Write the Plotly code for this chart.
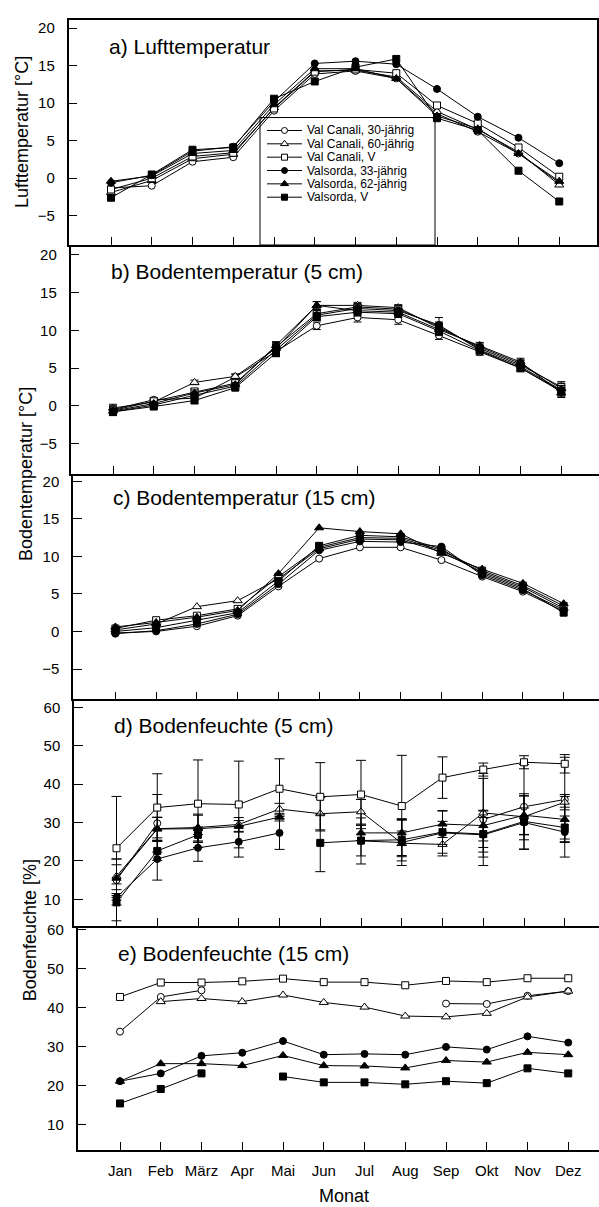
import plotly.graph_objects as go

W, H = 599, 1207
FONT = "Liberation Sans, Arial, sans-serif"

months = ["Jan", "Feb", "März", "Apr", "Mai", "Jun", "Jul", "Aug", "Sep", "Okt", "Nov", "Dez"]
month_idx = list(range(1, 13))

series_names = [
    "Val Canali, 30-jährig",
    "Val Canali, 60-jährig",
    "Val Canali, V",
    "Valsorda, 33-jährig",
    "Valsorda, 62-jährig",
    "Valsorda, V",
]

# a) Lufttemperatur [°C]
air_vc30 = [-1.3, -1.0, 2.2, 2.8, 9.0, 13.9, 14.3, 13.3, 8.6, 6.2, 3.3, -0.6]
air_vc60 = [-1.9, -0.3, 2.6, 3.2, 9.4, 14.3, 14.4, 13.5, 8.9, 6.5, 3.5, -0.9]
air_vcv = [-1.5, 0.0, 2.9, 3.4, 9.3, 14.2, 14.5, 14.0, 9.7, 7.3, 4.1, 0.2]
air_vs33 = [-0.6, 0.4, 3.6, 4.2, 10.2, 15.3, 15.6, 15.2, 11.9, 8.2, 5.4, 2.0]
air_vs62 = [-0.4, 0.3, 3.3, 3.7, 9.8, 14.6, 14.6, 13.3, 8.3, 6.6, 3.3, -0.4]
air_vsv = [-2.6, 0.5, 3.8, 4.1, 10.6, 12.9, 14.8, 15.9, 8.0, 6.4, 1.0, -3.1]

# b) Bodentemperatur 5 cm [°C] with standard errors
st5_vc30 = [-0.5, 0.8, 1.0, 3.8, 7.2, 10.6, 11.7, 11.4, 9.3, 7.1, 5.0, 1.9]
st5_vc60 = [-0.3, 0.5, 3.1, 3.9, 7.6, 13.3, 13.3, 13.0, 10.3, 7.8, 5.6, 2.3]
st5_vcv = [-0.6, 0.6, 1.9, 3.0, 7.8, 12.2, 13.1, 12.8, 10.5, 7.6, 5.4, 2.5]
st5_vs33 = [-0.8, 0.1, 1.4, 2.6, 7.4, 12.0, 12.9, 12.6, 10.7, 7.4, 5.2, 2.1]
st5_vs62 = [-0.7, 0.3, 1.7, 2.8, 8.0, 13.3, 12.6, 12.4, 10.1, 8.0, 5.8, 1.7]
st5_vsv = [-0.8, -0.1, 0.7, 2.4, 7.0, 11.8, 12.4, 12.2, 9.9, 7.3, 5.0, 2.0]
st5_err_vc30 = [0.4, 0.3, 0.3, 0.4, 0.5, 0.5, 0.6, 0.6, 0.5, 0.4, 0.4, 0.6]
st5_err_vc60 = [0.5, 0.3, 0.3, 0.3, 0.5, 0.5, 0.4, 0.4, 0.5, 0.4, 0.5, 0.7]
st5_err_vcv = [0.6, 0.3, 0.4, 0.3, 0.6, 0.6, 0.4, 0.5, 0.6, 0.4, 0.6, 0.7]
st5_err_vs33 = [0.4, 0.3, 0.4, 0.3, 0.5, 0.6, 0.5, 0.5, 1.0, 0.4, 0.5, 0.6]
st5_err_vs62 = [0.4, 0.3, 0.4, 0.3, 0.5, 0.5, 0.4, 0.4, 0.6, 0.4, 0.5, 0.6]
st5_err_vsv = [0.5, 0.3, 0.4, 0.3, 0.5, 0.5, 0.5, 0.5, 0.6, 0.4, 0.5, 0.7]

# c) Bodentemperatur 15 cm [°C]
st15_vc30 = [-0.2, 0.0, 0.7, 2.1, 6.0, 9.7, 11.2, 11.2, 9.5, 7.3, 5.3, 2.7]
st15_vc60 = [0.2, 1.0, 3.3, 4.1, 7.0, 11.0, 12.3, 12.2, 10.6, 7.9, 5.9, 3.1]
st15_vcv = [0.4, 1.5, 2.1, 3.0, 7.3, 11.2, 12.5, 12.4, 10.8, 8.1, 6.1, 3.4]
st15_vs33 = [-0.3, 0.1, 1.0, 2.3, 6.3, 10.8, 12.0, 11.9, 11.3, 7.5, 5.5, 2.9]
st15_vs62 = [0.6, 1.2, 1.9, 2.8, 7.7, 13.8, 13.3, 13.0, 10.4, 8.3, 6.4, 3.7]
st15_vsv = [0.0, 0.5, 1.5, 2.5, 6.7, 11.4, 12.8, 12.6, 11.0, 7.7, 5.7, 2.5]

# d) Bodenfeuchte 5 cm [%] with standard deviations
sm5_vc30 = [15.0, 29.8, None, None, None, None, None, None, None, 30.8, 34.1, 36.0]
sm5_vc60 = [16.0, 28.4, 28.7, 29.5, 33.5, 32.3, 32.8, 24.6, 24.3, 32.5, 31.5, 35.3]
sm5_vcv = [23.3, 33.9, 34.9, 34.7, 38.8, 36.7, 37.3, 34.3, 41.7, 43.8, 45.7, 45.3]
sm5_vs33 = [10.5, 20.5, 23.4, 25.0, 27.3, None, 25.2, 24.8, 27.3, 26.8, 30.0, 27.5]
sm5_vs62 = [15.5, 28.3, 28.4, 29.0, 31.4, None, 27.3, 27.3, 29.6, 29.2, 31.9, 30.8]
sm5_vsv = [9.2, 22.6, 26.8, None, None, 24.7, 25.3, 25.5, 27.5, 27.0, 30.3, 28.7]
sm5_err_vc30 = [4.0, 7.5, 0, 0, 0, 0, 0, 0, 0, 12.0, 11.0, 11.0]
sm5_err_vc60 = [4.5, 3.0, 3.5, 1.8, 1.5, 4.2, 3.2, 3.2, 3.0, 9.0, 6.0, 2.0]
sm5_err_vcv = [13.5, 8.8, 11.4, 11.3, 7.8, 8.9, 8.9, 13.2, 5.4, 1.7, 1.7, 2.4]
sm5_err_vs33 = [2.0, 5.5, 3.5, 4.0, 4.3, 0, 6.0, 6.0, 3.0, 4.5, 7.0, 6.5]
sm5_err_vs62 = [5.0, 3.0, 3.5, 1.5, 1.0, 0, 2.0, 3.3, 3.5, 4.0, 5.0, 6.0]
sm5_err_vsv = [4.8, 2.5, 2.0, 0, 0, 7.5, 4.0, 5.5, 5.5, 6.0, 3.5, 3.0]

# e) Bodenfeuchte 15 cm [%]
sm15_vc30 = [33.8, 42.7, 44.4, None, None, None, None, None, 41.0, 40.9, 43.0, 44.2]
sm15_vc60 = [None, 41.5, 42.3, 41.5, 43.2, 41.3, 40.1, 37.8, 37.6, 38.5, 42.7, 44.2]
sm15_vcv = [42.7, 46.4, 46.4, 46.7, 47.4, 46.5, 46.5, 45.7, 46.8, 46.5, 47.5, 47.5]
sm15_vs33 = [21.1, 23.1, 27.6, 28.4, 31.4, 27.9, 28.1, 27.9, 29.9, 29.2, 32.6, 31.0]
sm15_vs62 = [21.1, 25.6, 25.6, 25.1, 27.7, 25.1, 25.0, 24.5, 26.4, 26.0, 28.5, 27.9]
sm15_vsv = [15.4, 19.1, 23.1, None, 22.3, 20.8, 20.8, 20.3, 21.1, 20.6, 24.4, 23.1]

# marker style per series: (symbol, fill)
styles = [
    ("circle", "white"),
    ("triangle-up", "white"),
    ("square", "white"),
    ("circle", "black"),
    ("triangle-up", "black"),
    ("square", "black"),
]
sizes = [7, 8, 7, 7, 8, 7]

panels = [
    dict(title="a) Lufttemperatur",
         data=[air_vc30, air_vc60, air_vcv, air_vs33, air_vs62, air_vsv],
         err=None,
         jan=111, left=68.5, right=597, top=15, bottom=241,
         yrange=[-8.9, 21.1], ticks=[-5, 0, 5, 10, 15, 20], title_y=42),
    dict(title="b) Bodentemperatur (5 cm)",
         data=[st5_vc30, st5_vc60, st5_vcv, st5_vs33, st5_vs62, st5_vsv],
         err=[st5_err_vc30, st5_err_vc60, st5_err_vcv, st5_err_vs33, st5_err_vs62, st5_err_vsv],
         jan=113, left=70.5, right=599, top=241, bottom=470.7,
         yrange=[-9.0, 21.3], ticks=[-5, 0, 5, 10, 15, 20], title_y=268),
    dict(title="c) Bodentemperatur (15 cm)",
         data=[st15_vc30, st15_vc60, st15_vcv, st15_vs33, st15_vs62, st15_vsv],
         err=None,
         jan=115.4, left=73, right=599, top=470.7, bottom=697.3,
         yrange=[-9.05, 21.0], ticks=[-5, 0, 5, 10, 15, 20], title_y=495),
    dict(title="d) Bodenfeuchte (5 cm)",
         data=[sm5_vc30, sm5_vc60, sm5_vcv, sm5_vs33, sm5_vs62, sm5_vsv],
         err=[sm5_err_vc30, sm5_err_vc60, sm5_err_vcv, sm5_err_vs33, sm5_err_vs62, sm5_err_vsv],
         jan=116.5, left=74, right=599, top=697, bottom=925,
         yrange=[3.0, 62.15], ticks=[10, 20, 30, 40, 50, 60], title_y=723),
    dict(title="e) Bodenfeuchte (15 cm)",
         data=[sm15_vc30, sm15_vc60, sm15_vcv, sm15_vs33, sm15_vs62, sm15_vsv],
         err=None,
         jan=120, left=77.5, right=599, top=925, bottom=1150,
         yrange=[3.4, 60.85], ticks=[10, 20, 30, 40, 50, 60], title_y=952),
]
STEP = 40.75  # pixels per month

fig = go.Figure()
layout = dict(
    width=W, height=H,
    margin=dict(l=0, r=0, t=0, b=0),
    paper_bgcolor="white", plot_bgcolor="rgba(0,0,0,0)",
    showlegend=False,
    font=dict(family=FONT, color="black"),
)
annotations = []

for i, p in enumerate(panels):
    n = i + 1
    xa = "x" if n == 1 else f"x{n}"
    ya = "y" if n == 1 else f"y{n}"
    for k in range(6):
        sym, fill = styles[k]
        err = None
        if p["err"] is not None:
            err = dict(type="data", array=p["err"][k], visible=True,
                       color="black", thickness=1, width=4 if n == 2 else 5)
        fig.add_trace(go.Scatter(
            x=month_idx, y=p["data"][k], xaxis=xa, yaxis=ya,
            mode="lines+markers", connectgaps=False,
            line=dict(color="black", width=1),
            marker=dict(symbol=sym, size=sizes[k], color=fill,
                        line=dict(color="black", width=1)),
            error_y=err, name=series_names[k], cliponaxis=False,
        ))
    xr = [1 - (p["jan"] - p["left"]) / STEP, 1 + (p["right"] - p["jan"]) / STEP]
    last = n == len(panels)
    layout["xaxis" if n == 1 else f"xaxis{n}"] = dict(
        domain=[p["left"] / W, p["right"] / W], range=xr, anchor=ya,
        tickvals=month_idx, ticktext=months, showticklabels=last,
        ticks="inside", ticklen=8, tickwidth=1, tickcolor="black",
        showline=True, linecolor="black", linewidth=1.5, mirror=(n == 1),
        showgrid=False, zeroline=False,
        tickfont=dict(family=FONT, size=15, color="black"),
        ticklabelstandoff=6,
    )
    layout["yaxis" if n == 1 else f"yaxis{n}"] = dict(
        domain=[1 - p["bottom"] / H, 1 - p["top"] / H], range=p["yrange"], anchor=xa,
        tickvals=p["ticks"], ticks="inside", ticklen=9, tickwidth=1, tickcolor="black",
        showline=True, linecolor="black", linewidth=1.5, mirror=(n == 1),
        showgrid=False, zeroline=False,
        tickfont=dict(family=FONT, size=15, color="black"),
        ticklabelstandoff=9,
    )
    annotations.append(dict(
        text=p["title"], xref="paper", yref="paper",
        x=(p["left"] + 38) / W, y=1 - p["title_y"] / H,
        xanchor="left", yanchor="middle", showarrow=False,
        font=dict(family=FONT, size=21, color="black"),
    ))

# legend box drawn inside panel a
LEG_L, LEG_R, LEG_T, LEG_B = 260, 435, 113, 241
LEG_ROW0, LEG_ROWSTEP = 13, 13.4
layout["xaxis6"] = dict(domain=[LEG_L / W, LEG_R / W], range=[0, LEG_R - LEG_L],
                        anchor="y6", visible=False, fixedrange=True)
layout["yaxis6"] = dict(domain=[1 - LEG_B / H, 1 - LEG_T / H], range=[LEG_B - LEG_T, 0],
                        anchor="x6", visible=False, fixedrange=True)
for k in range(6):
    sym, fill = styles[k]
    row = LEG_ROW0 + LEG_ROWSTEP * k
    fig.add_trace(go.Scatter(x=[7, 42], y=[row, row], xaxis="x6", yaxis="y6",
                             mode="lines", line=dict(color="black", width=1),
                             hoverinfo="skip"))
    fig.add_trace(go.Scatter(x=[24.5], y=[row], xaxis="x6", yaxis="y6",
                             mode="markers", hoverinfo="skip",
                             marker=dict(symbol=sym, size=sizes[k] - 1, color=fill,
                                         line=dict(color="black", width=1))))
    annotations.append(dict(text=series_names[k], xref="x6", yref="y6", x=46, y=row,
                            xanchor="left", yanchor="middle", showarrow=False,
                            borderpad=0,
                            font=dict(family=FONT, size=12, color="black")))

shapes = [dict(type="rect", xref="paper", yref="paper",
               x0=LEG_L / W, x1=LEG_R / W, y0=1 - LEG_B / H, y1=1 - LEG_T / H,
               line=dict(color="black", width=1), fillcolor="rgba(0,0,0,0)")]

# axis titles
for text, cx, cy in [("Lufttemperatur [°C]", 22.5, 128),
                     ("Bodentemperatur [°C]", 26, 471),
                     ("Bodenfeuchte [%]", 30, 929)]:
    annotations.append(dict(text=text, xref="paper", yref="paper", x=cx / W, y=1 - cy / H,
                            xanchor="center", yanchor="middle", textangle=-90,
                            showarrow=False, font=dict(family=FONT, size=18, color="black")))
annotations.append(dict(text="Monat", xref="paper", yref="paper", x=343.5 / W, y=1 - 1196 / H,
                        xanchor="center", yanchor="middle", showarrow=False,
                        font=dict(family=FONT, size=18, color="black")))

layout["annotations"] = annotations
layout["shapes"] = shapes
fig.update_layout(**layout)
fig.write_html("out.html")
